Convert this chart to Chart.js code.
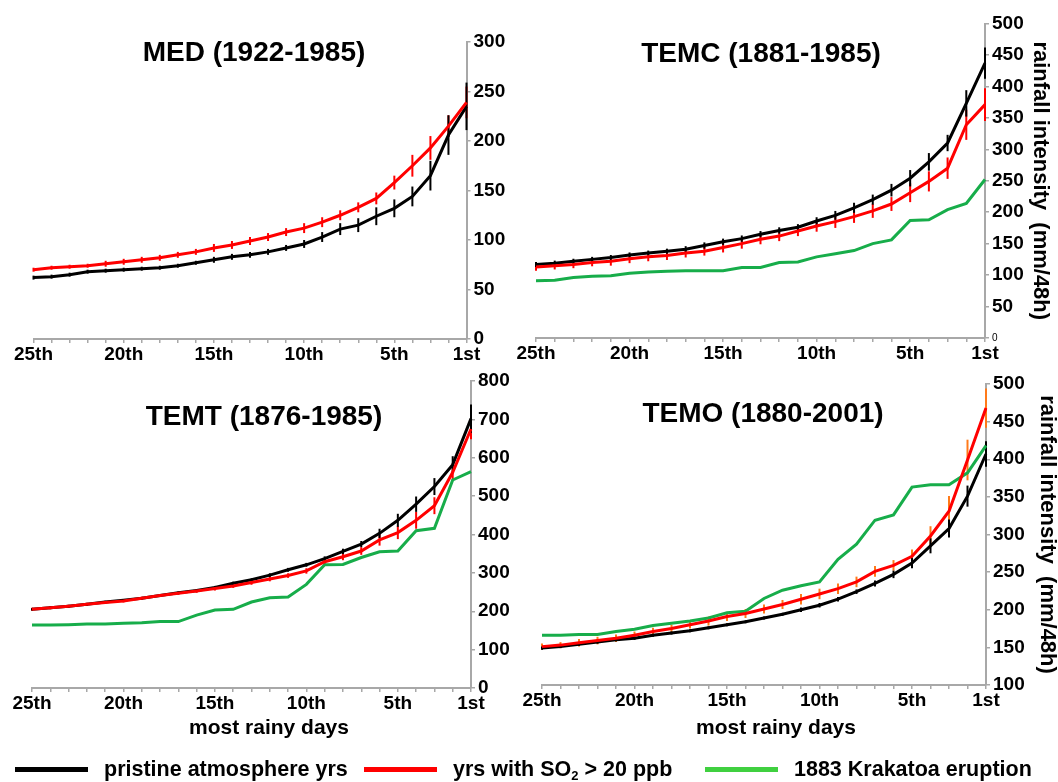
<!DOCTYPE html>
<html>
<head>
<meta charset="utf-8">
<script src="https://cdn.jsdelivr.net/npm/chart.js@4.4.1/dist/chart.umd.min.js"></script>
<style>
  html, body { margin: 0; padding: 0; background: #fff; }
  #page { position: relative; width: 1058px; height: 782px; overflow: hidden; }
  #page canvas { position: absolute; left: 0; top: 0; }
  .key { position: absolute; top: 756px; height: 26px; display: flex; align-items: center;
         font: bold 21.5px "Liberation Sans", Arial, sans-serif; color: #000; white-space: nowrap; }
  .key i { display: inline-block; width: 73px; height: 5px; margin-right: 16px; }
  .key sub { font-size: 13px; vertical-align: -4px; line-height: 0; }
</style>
</head>
<body>
<div id="page">
  <canvas id="med" width="1058" height="782"></canvas>
  <canvas id="temc" width="1058" height="782"></canvas>
  <canvas id="temt" width="1058" height="782"></canvas>
  <canvas id="temo" width="1058" height="782"></canvas>
</div>
<script>
// ranks of the most rainy days, left to right
const ranks = ["25th", "24th", "23rd", "22nd", "21st", "20th", "19th", "18th", "17th", "16th",
  "15th", "14th", "13th", "12th", "11th", "10th", "9th", "8th", "7th", "6th",
  "5th", "4th", "3rd", "2nd", "1st"];
const shownRanks = ["25th", "20th", "15th", "10th", "5th", "1st"];

// rainfall intensity (mm/48h)
const medBlack = [62, 63, 65, 68, 69, 70, 71, 72, 74, 77, 80, 83, 85, 88, 92, 96, 103, 111, 115, 124, 132, 144, 165, 206, 235];
const medBlackErr = [2, 2, 2, 2, 2, 2, 2, 2, 2, 2, 3, 3, 3, 3, 3, 4, 5, 6, 7, 9, 9, 10, 15, 20, 24];
const medRed = [70, 72, 73, 74, 76, 78, 80, 82, 85, 88, 92, 95, 99, 103, 108, 112, 118, 125, 133, 142, 158, 175, 193, 215, 239];
const medRedErr = [2, 2, 2, 2, 3, 3, 3, 3, 3, 3, 4, 4, 4, 4, 4, 5, 5, 5, 5, 6, 7, 11, 12, 11, 16];

const temcBlack = [117, 119, 122, 125, 128, 132, 135, 138, 141, 147, 153, 158, 165, 171, 176, 186, 195, 207, 220, 235, 254, 280, 310, 373, 437];
const temcBlackErr = [4, 4, 4, 4, 4, 4, 4, 4, 5, 5, 5, 5, 5, 5, 5, 6, 7, 8, 8, 10, 13, 14, 13, 21, 25];
const temcRed = [113, 115, 117, 120, 122, 126, 129, 131, 135, 138, 144, 150, 157, 162, 170, 178, 185, 193, 202, 213, 231, 249, 270, 339, 371];
const temcRedErr = [6, 6, 6, 6, 7, 7, 7, 7, 7, 7, 8, 8, 8, 8, 8, 9, 10, 10, 11, 11, 15, 16, 17, 24, 26];
const temcGreen = [91, 92, 96, 98, 99, 103, 105, 106, 107, 107, 107, 112, 112, 120, 121, 129, 134, 139, 150, 156, 187, 188, 204, 214, 252];

const temtBlack = [205, 209, 213, 218, 224, 229, 234, 241, 248, 254, 262, 273, 282, 294, 308, 321, 337, 356, 375, 403, 437, 479, 525, 582, 702];
const temtBlackErr = [3, 3, 3, 3, 3, 3, 3, 3, 3, 4, 4, 4, 4, 5, 5, 5, 6, 7, 8, 12, 17, 20, 22, 22, 37];
const temtRed = [205, 209, 213, 218, 223, 227, 234, 241, 247, 253, 259, 266, 275, 284, 293, 305, 329, 342, 357, 386, 405, 437, 475, 562, 675];
const temtRedErr = [4, 4, 4, 4, 4, 4, 4, 4, 4, 5, 5, 5, 6, 6, 6, 7, 8, 9, 10, 15, 17, 22, 22, 22, 27];
const temtGreen = [164, 164, 165, 167, 167, 169, 170, 173, 173, 190, 203, 205, 224, 235, 237, 270, 321, 322, 340, 355, 357, 410, 416, 542, 564];

const temoBlack = [149, 151, 154, 157, 160, 162, 166, 169, 172, 176, 180, 184, 189, 194, 200, 206, 214, 224, 235, 247, 262, 285, 308, 351, 407];
const temoBlackErr = [2, 2, 2, 2, 2, 2, 2, 2, 2, 2, 2, 2, 2, 2, 3, 3, 3, 3, 4, 5, 7, 10, 12, 14, 17];
const temoRed = [151, 153, 156, 159, 162, 166, 171, 175, 180, 185, 191, 195, 201, 207, 214, 221, 228, 237, 251, 259, 271, 298, 331, 399, 468];
const temoRedErr = [4, 4, 5, 5, 5, 5, 5, 5, 5, 6, 6, 6, 6, 6, 7, 7, 7, 7, 7, 7, 9, 13, 20, 27, 26];
const temoGreen = [166, 166, 167, 167, 171, 174, 179, 182, 185, 189, 196, 198, 215, 226, 232, 237, 267, 287, 319, 326, 363, 366, 366, 382, 418];

const legendNames = ["pristine atmosphere yrs", "yrs with SO<sub>2</sub> &gt; 20 ppb", "1883 Krakatoa eruption"];

const FONT = "\"Liberation Sans\", Arial, sans-serif";
const BLACK = "#000000";
const RED = "#ff0000";
const GREEN = "#17ad4a";
const AXIS = "#a8a8a8";
const legendColors = [BLACK, RED, "#40d040"];
const legendLeft = [15, 364, 705];

Chart.defaults.font.family = FONT;
Chart.defaults.color = "#000";

// vertical error bars, drawn under the lines
const errorBars = {
  id: "errorBars",
  beforeDatasetsDraw(chart) {
    const { ctx } = chart;
    const y = chart.scales.y;
    chart.data.datasets.forEach((ds, i) => {
      if (!ds.errors) return;
      const meta = chart.getDatasetMeta(i);
      ctx.save();
      ctx.strokeStyle = ds.errColor;
      ctx.lineWidth = 2;
      meta.data.forEach((pt, j) => {
        const v = ds.data[j], e = ds.errors[j];
        ctx.beginPath();
        ctx.moveTo(pt.x, y.getPixelForValue(v - e));
        ctx.lineTo(pt.x, y.getPixelForValue(v + e));
        ctx.stroke();
      });
      ctx.restore();
    });
  }
};

// panel titles and x axis caption
const panelText = {
  id: "panelText",
  afterDraw(chart, args, opts) {
    const { ctx } = chart;
    (opts.items || []).forEach(t => {
      ctx.save();
      ctx.font = t.font;
      ctx.fillStyle = "#000";
      ctx.textAlign = "center";
      ctx.textBaseline = "alphabetic";
      ctx.fillText(t.text, t.x, t.y);
      ctx.restore();
    });
  }
};

function makePanel(id, p) {
  const [left, top, right, bottom] = p.area;
  const W = p.axisW, H = 30;

  const datasets = [
    { data: p.red, errors: p.redErr, errColor: p.redErrColor || RED, borderColor: RED, order: 0 },
    { data: p.black, errors: p.blackErr, errColor: BLACK, borderColor: BLACK, order: 1 }
  ];
  if (p.green) datasets.push({ data: p.green, borderColor: GREEN, order: 2 });

  const texts = [{ text: p.title, x: p.titleAt[0], y: p.titleAt[1], font: "bold 28px " + FONT }];
  if (p.xTitleAt) {
    texts.push({ text: "most rainy days", x: p.xTitleAt[0], y: p.xTitleAt[1], font: "bold 21px " + FONT });
  }

  new Chart(document.getElementById(id), {
    type: "line",
    data: { labels: ranks, datasets: datasets },
    options: {
      responsive: false,
      animation: false,
      layout: { padding: { left: left, top: top, right: 1058 - right - W, bottom: 782 - bottom - H } },
      elements: {
        line: { borderWidth: 3, tension: 0, fill: false },
        point: { radius: 0, hoverRadius: 0 }
      },
      plugins: {
        legend: { display: false },
        tooltip: { enabled: false },
        panelText: { items: texts }
      },
      scales: {
        x: {
          offset: false,
          border: { color: AXIS, width: 2 },
          grid: { drawOnChartArea: false, color: AXIS, tickLength: 4, lineWidth: 1.5 },
          ticks: {
            autoSkip: false,
            maxRotation: 0,
            padding: 0,
            color: "#000",
            font: { size: 19, weight: "bold" },
            callback: (v, i) => shownRanks.includes(ranks[i]) ? ranks[i] : ""
          },
          afterFit: s => { s.height = H; }
        },
        y: {
          position: "right",
          min: p.yMin,
          max: p.yMax,
          border: { color: AXIS, width: 2 },
          grid: { drawOnChartArea: false, color: AXIS, tickLength: 4, lineWidth: 1.5 },
          ticks: {
            stepSize: p.yStep,
            padding: 3,
            color: "#000",
            font: ctx => (p.smallZero && ctx.tick && ctx.tick.value === 0)
              ? { size: 10, weight: "normal" }
              : { size: 19, weight: "bold" }
          },
          title: {
            display: !!p.yTitle,
            text: "rainfall intensity  (mm/48h)",
            color: "#000",
            padding: 0,
            font: { size: 22, weight: "bold" }
          },
          afterFit: s => { s.width = W; }
        }
      }
    },
    plugins: [errorBars, panelText]
  });
}

makePanel("med", {
  title: "MED (1922-1985)", titleAt: [254, 61],
  area: [33.5, 42, 466.5, 339], axisW: 50,
  yMin: 0, yMax: 300, yStep: 50,
  black: medBlack, blackErr: medBlackErr, red: medRed, redErr: medRedErr
});

makePanel("temc", {
  title: "TEMC (1881-1985)", titleAt: [761, 62],
  area: [536, 23.5, 985, 338], axisW: 68,
  yTitle: true, smallZero: true,
  yMin: 0, yMax: 500, yStep: 50,
  black: temcBlack, blackErr: temcBlackErr, red: temcRed, redErr: temcRedErr, green: temcGreen
});

makePanel("temt", {
  title: "TEMT (1876-1985)", titleAt: [264, 425], xTitleAt: [269, 734],
  area: [32, 381, 471, 688], axisW: 50,
  yMin: 0, yMax: 800, yStep: 100,
  black: temtBlack, blackErr: temtBlackErr, red: temtRed, redErr: temtRedErr, green: temtGreen
});

makePanel("temo", {
  title: "TEMO (1880-2001)", titleAt: [763, 422], xTitleAt: [776, 734],
  area: [542, 384, 986, 685], axisW: 74,
  yTitle: true,
  yMin: 100, yMax: 500, yStep: 50,
  black: temoBlack, blackErr: temoBlackErr, red: temoRed, redErr: temoRedErr, redErrColor: "#ff7a1a",
  green: temoGreen
});

// legend strip along the bottom
const page = document.getElementById("page");
legendNames.forEach((name, i) => {
  const key = document.createElement("div");
  key.className = "key";
  key.style.left = legendLeft[i] + "px";
  key.innerHTML = "<i style=\"background:" + legendColors[i] + "\"></i><span>" + name + "</span>";
  page.appendChild(key);
});
</script>
</body>
</html>
